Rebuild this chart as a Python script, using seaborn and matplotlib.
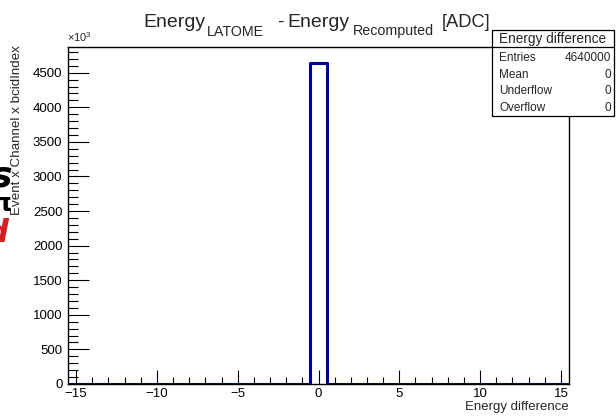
import numpy as np
import pandas as pd
import matplotlib
matplotlib.use("Agg")
import matplotlib.pyplot as plt
from matplotlib.ticker import MultipleLocator, FuncFormatter
import seaborn as sns

# Histogram content: one entry per integer bin from -15 to 15
bin_centers = list(range(-15, 16))
bin_counts = [0] * 15 + [4640000] + [0] * 15
stats_labels = ["Entries", "Mean", "Underflow", "Overflow"]
stats_values = ["4640000", "0", "0", "0"]

sns.set_theme(style="white")
plt.rcParams["font.family"] = ["Liberation Sans", "DejaVu Sans"]
plt.rcParams["mathtext.fontset"] = "custom"
plt.rcParams["mathtext.rm"] = "Liberation Sans"
plt.rcParams["mathtext.it"] = "Liberation Sans"

W, H = 616, 417
fig = plt.figure(figsize=(W / 100, H / 100), dpi=100)
ax = fig.add_axes([68 / W, 1 - 384 / H, (569 - 68) / W, (384 - 47) / H])

df = pd.DataFrame({"energy_diff": bin_centers, "count": bin_counts})
sns.histplot(data=df, x="energy_diff", weights="count", binwidth=1,
             binrange=(-15.5, 15.5), element="step", fill=False,
             color="#000099", linewidth=2.2, ax=ax)

ax.set_xlim(-15.5, 15.5)
ax.set_ylim(0, max(bin_counts) * 1.05)

for s in ax.spines.values():
    s.set_color("black")
    s.set_linewidth(1.0)

ax.xaxis.set_major_locator(MultipleLocator(5))
ax.xaxis.set_minor_locator(MultipleLocator(1))
ax.yaxis.set_major_locator(MultipleLocator(500000))
ax.yaxis.set_minor_locator(MultipleLocator(100000))
ax.yaxis.set_major_formatter(FuncFormatter(lambda v, p: f"{v / 1000:.0f}"))
ax.xaxis.set_major_formatter(FuncFormatter(lambda v, p: f"{v:.0f}".replace("-", "\u2212")))
ax.tick_params(axis="both", which="both", direction="in", color="black",
               bottom=True, left=True, top=False, right=False,
               labelsize=9.5, labelcolor="black")
ax.tick_params(axis="x", which="major", length=10, width=0.8, pad=3)
ax.tick_params(axis="x", which="minor", length=5, width=0.8)
ax.tick_params(axis="y", which="major", length=15, width=0.8, pad=4)
ax.tick_params(axis="y", which="minor", length=7.5, width=0.8)
ax.set_xlabel("")
ax.set_ylabel("")
ax.grid(False)

def px(x, y):
    return x / W, 1 - y / H

fig.text(*px(569, 410), "Energy difference", ha="right", va="baseline", fontsize=9.5)
fig.text(*px(17, 45), "Event x Channel x bcidIndex", rotation=90,
         ha="center", va="top", fontsize=9.6)
fig.text(*px(67, 42), r"$\times$10$^{3}$", ha="left", va="baseline", fontsize=8)

# Title built from pieces so the subscripts keep their larger size
title_parts = [
    (143, 27, "Energy", 14),
    (207, 36, "LATOME", 10.3),
    (277, 27, "-", 14),
    (287, 27, "Energy", 14),
    (353, 35, "Recomputed", 10.3),
    (442, 27, "[ADC]", 13.2),
]
for x0, y0, txt, fs in title_parts:
    fig.text(*px(x0, y0), txt, ha="left", va="baseline", fontsize=fs)

# Statistics box
bx0, by0, bx1, by1 = 492, 30, 614, 116
box = plt.Rectangle(px(bx0, by1), (bx1 - bx0) / W, (by1 - by0) / H,
                    transform=fig.transFigure, fill=True, facecolor="white",
                    edgecolor="black", linewidth=0.9, zorder=5)
fig.add_artist(box)
fig.add_artist(plt.Line2D([bx0 / W, bx1 / W], [1 - 47 / H, 1 - 47 / H],
                          transform=fig.transFigure, color="black", linewidth=0.9, zorder=6))
fig.text(*px((bx0 + bx1) / 2, 39), "Energy difference", ha="center", va="center",
         fontsize=9.8, zorder=7)
for i, (lab, val) in enumerate(zip(stats_labels, stats_values)):
    yy = 58 + i * 16.7
    fig.text(*px(499, yy), lab, ha="left", va="center", fontsize=8.5, zorder=7)
    fig.text(*px(611, yy), val, ha="right", va="center", fontsize=8.5, zorder=7)

# Clipped text at the left edge
fig.text(*px(12, 176), "s", ha="right", va="center", fontsize=26,
         fontweight="bold", fontstyle="italic", color="black", family="DejaVu Sans")
fig.text(*px(12, 204), "\u03c0", ha="right", va="center", fontsize=18,
         fontweight="bold", color="black", family="DejaVu Sans")
fig.text(*px(9, 233), "d", ha="right", va="center", fontsize=23,
         fontweight="bold", fontstyle="italic", color="#d42020", family="DejaVu Sans")

fig.savefig("out.png", dpi=100)
